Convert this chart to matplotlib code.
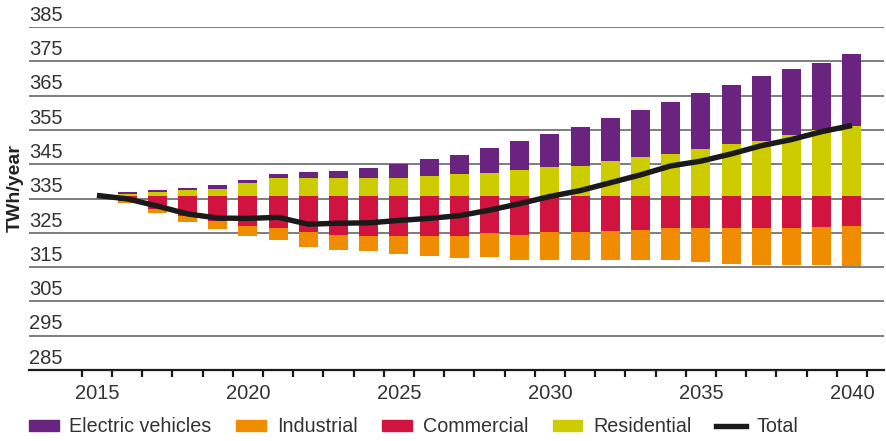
import matplotlib
matplotlib.use("Agg")
import matplotlib.pyplot as plt
from matplotlib.patches import Patch
from matplotlib.lines import Line2D
import matplotlib.transforms as mtransforms

plt.rcParams['font.family'] = ['Liberation Sans', 'DejaVu Sans']

# ---- data ----
bar_years = list(range(2016, 2041))
line_years = list(range(2015, 2041))
base_2015 = 335.6

residential = [0.6, 1.2, 1.75, 2.3, 3.8, 5.25, 5.25, 5.25, 5.5, 5.5, 6.1, 6.4, 6.7,
               7.6, 8.5, 9.0, 10.2, 11.4, 12.5, 13.7, 15.2, 16.3, 17.8, 19.5, 20.4]
electric_vehicles = [0.6, 0.6, 0.6, 0.9, 0.9, 1.2, 1.75, 2.3, 2.9, 4.1, 4.7, 5.8, 7.3,
                     8.5, 9.6, 11.1, 12.8, 13.7, 14.9, 16.6, 17.2, 18.7, 19.5, 19.5, 21.0]
commercial = [-1.2, -3.8, -5.6, -7.2, -8.7, -9.3, -10.5, -11.1, -11.4, -11.4, -11.4, -11.4, -10.8,
              -11.1, -10.5, -10.5, -10.2, -9.9, -9.3, -9.3, -9.3, -9.3, -9.3, -9.0, -8.5]
industrial = [-0.8, -1.1, -1.9, -2.4, -2.9, -3.5, -4.3, -4.6, -4.6, -5.5, -6.0, -6.6, -6.9,
              -7.3, -7.9, -7.9, -8.2, -8.5, -9.3, -9.9, -10.5, -10.8, -10.8, -11.1, -11.7]
total = [335.9, 334.9, 332.8, 330.5, 329.3, 329.2, 329.5, 327.5, 327.8, 327.9, 328.6, 329.2,
         330.0, 331.6, 333.5, 335.6, 337.3, 339.6, 341.9, 344.5, 345.9, 348.0, 350.4, 352.2,
         354.5, 356.3]

y_ticks = [285, 295, 305, 315, 325, 335, 345, 355, 365, 375, 385]
x_label_years = [2015, 2020, 2025, 2030, 2035, 2040]

c_ev = '#6a247f'
c_ind = '#f08c00'
c_com = '#d1143f'
c_res = '#cccc00'
c_tot = '#1a1a1a'
txt = '#333333'

fig = plt.figure(figsize=(8.87, 4.41), dpi=100)
ax = fig.add_axes([29/887, 71/441, 855/887, 343/441])
ax.set_xlim(2012.75, 2041.06)
ax.set_ylim(285, 385)

# gridlines
for v in y_ticks[1:]:
    ax.axhline(v, color='#5a5a5a', lw=1.1, zorder=0)

w = 0.63
res_top = [base_2015 + r for r in residential]
com_bot = [base_2015 + c for c in commercial]
ax.bar(bar_years, residential, w, bottom=base_2015, color=c_res, zorder=2, linewidth=0)
ax.bar(bar_years, electric_vehicles, w, bottom=res_top, color=c_ev, zorder=2, linewidth=0)
ax.bar(bar_years, commercial, w, bottom=base_2015, color=c_com, zorder=2, linewidth=0)
ax.bar(bar_years, industrial, w, bottom=com_bot, color=c_ind, zorder=2, linewidth=0)
ax.plot(line_years, total, color=c_tot, lw=3.9, solid_capstyle='butt',
        solid_joinstyle='round', zorder=3)

# spines
for s in ['top', 'right', 'left']:
    ax.spines[s].set_visible(False)
ax.spines['bottom'].set_color('#1a1a1a')
ax.spines['bottom'].set_linewidth(1.6)

ax.set_yticks([])
ax.set_xticks([y + 0.5 for y in range(2014, 2041)])
ax.set_xticklabels([])
ax.tick_params(axis='x', which='major', length=5, width=1.6, color='#1a1a1a', direction='out')
ax.set_xticks(x_label_years, minor=True)
ax.set_xticklabels([str(y) for y in x_label_years], minor=True)
ax.tick_params(axis='x', which='minor', length=0, pad=10, labelsize=14.5, labelcolor=txt)

trans = mtransforms.blended_transform_factory(ax.transAxes, ax.transData)
for v in y_ticks:
    ax.annotate(str(v), xy=(0, v), xycoords=trans, xytext=(0, 4.5),
                textcoords='offset points', ha='left', va='baseline',
                fontsize=14.5, color=txt, annotation_clip=False)

fig.text(15/887, 1 - 188/441, 'TWh/year', rotation=90, ha='center', va='center',
         fontsize=14, fontweight='bold', color='#222222')

handles = [Patch(color=c_ev, label='Electric vehicles'),
           Patch(color=c_ind, label='Industrial'),
           Patch(color=c_com, label='Commercial'),
           Patch(color=c_res, label='Residential'),
           Line2D([0], [0], color=c_tot, lw=3.9, label='Total')]
leg = fig.legend(handles=handles, loc='center left', bbox_to_anchor=(29/887, 1 - 427/441),
                 ncol=5, frameon=False, fontsize=14.2, handlelength=1.5, handleheight=0.5,
                 handletextpad=0.55, columnspacing=1.25, borderpad=0, borderaxespad=0)
for t in leg.get_texts():
    t.set_color(txt)

fig.savefig('out.png', dpi=100)
